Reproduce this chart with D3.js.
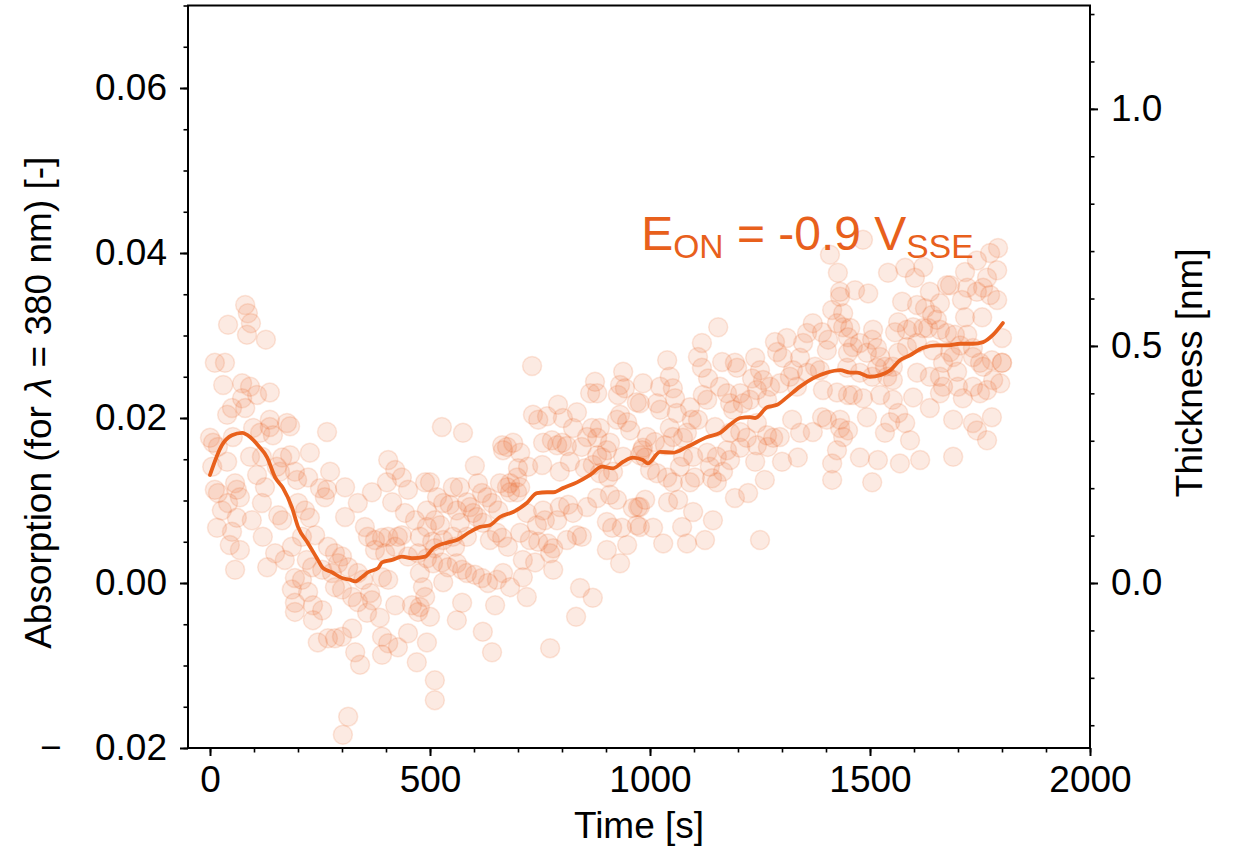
<!DOCTYPE html>
<html><head><meta charset="utf-8">
<script src="https://cdn.jsdelivr.net/npm/d3@7"></script>
<style>
body{margin:0;background:#fff}
text{font-family:"Liberation Sans",Arial,Helvetica,sans-serif}
</style>
</head><body>
<svg id="chart" width="1234" height="850"></svg>
<script>
// ---------------- data ----------------
const xTicks = [0, 500, 1000, 1500, 2000];
const yTicks = [-0.02, 0.00, 0.02, 0.04, 0.06];
const rightTicks = [0.0, 0.5, 1.0];
const xDomain = [-50, 2000];
const yDomain = [-0.02, 0.07];
const thicknessPerAbsorption = 17.4; // nm per absorption unit (twin axis)

// scatter: [time (s), absorption]
const scatterPoints = [
[80,0.0337],[86,0.0327],[93,0.0315],[84,0.0301],[41,0.0313],[127,0.0295],[11,0.0267],[34,0.0267],[30,0.0240],[73,0.0242],[91,0.0238],[107,0.0228],[136,0.0231],[73,0.0224],[80,0.0212],[50,0.0212],[39,0.0204],[0,0.0176],[7,0.0170],[18,0.0165],[52,0.0177],[98,0.0188],[114,0.0182],[136,0.0198],[136,0.0189],[143,0.0179],[175,0.0194],[182,0.0190],[266,0.0183],[91,0.0153],[118,0.0153],[39,0.0147],[164,0.0152],[182,0.0155],[227,0.0158],[152,0.0141],[159,0.0135],[193,0.0135],[223,0.0128],[198,0.0125],[273,0.0135],[107,0.0131],[57,0.0121],[61,0.0113],[68,0.0104],[11,0.0113],[18,0.0109],[125,0.0116],[250,0.0115],[266,0.0113],[261,0.0104],[307,0.0116],[405,0.0149],[421,0.0137],[436,0.0128],[402,0.0122],[368,0.0110],[450,0.0113],[489,0.0122],[118,0.0097],[41,0.0097],[27,0.0088],[61,0.0079],[95,0.0076],[155,0.0082],[164,0.0076],[200,0.0097],[216,0.0088],[227,0.0079],[307,0.0080],[336,0.0097],[414,0.0098],[443,0.0085],[466,0.0076],[16,0.0067],[50,0.0062],[45,0.0046],[68,0.0040],[57,0.0016],[120,0.0056],[148,0.0036],[170,0.0028],[130,0.0019],[186,0.0044],[209,0.0056],[239,0.0058],[268,0.0044],[284,0.0036],[300,0.0032],[352,0.0068],[359,0.0056],[375,0.0052],[391,0.0055],[405,0.0056],[427,0.0056],[375,0.0040],[398,0.0036],[421,0.0044],[436,0.0058],[450,0.0032],[473,0.0036],[220,0.0028],[232,0.0019],[255,0.0016],[277,0.0012],[291,0.0024],[314,0.0019],[336,0.0012],[348,0.0004],[391,0.0007],[405,0.0004],[193,0.0006],[209,0.0004],[186,-0.0008],[223,-0.0011],[284,-0.0005],[300,-0.0008],[323,-0.0017],[336,-0.0023],[368,-0.0021],[364,-0.0012],[193,-0.0024],[193,-0.0035],[234,-0.0027],[255,-0.0033],[357,-0.0036],[386,-0.0042],[421,-0.0027],[459,-0.0027],[473,-0.0035],[234,-0.0045],[323,-0.0055],[245,-0.0072],[268,-0.0067],[284,-0.0067],[300,-0.0065],[391,-0.0065],[405,-0.0073],[427,-0.0078],[450,-0.0061],[330,-0.0084],[341,-0.0099],[391,-0.0087],[470,-0.0096],[314,-0.0162],[302,-0.0184],[511,-0.0118],[511,-0.0142],[493,-0.0072],[561,-0.0045],[573,-0.0024],[500,-0.0041],[5,0.0141],
[732,0.0263],[875,0.0244],[864,0.0230],[880,0.0230],[939,0.0256],[932,0.0240],[927,0.0228],[943,0.0236],[984,0.0242],[970,0.0219],[527,0.0189],[575,0.0182],[734,0.0204],[746,0.0198],[766,0.0202],[791,0.0216],[802,0.0200],[834,0.0207],[825,0.0188],[868,0.0188],[886,0.0188],[925,0.0198],[932,0.0204],[948,0.0195],[955,0.0185],[664,0.0167],[675,0.0165],[689,0.0170],[666,0.0161],[705,0.0158],[757,0.0170],[777,0.0173],[789,0.0167],[800,0.0170],[811,0.0166],[845,0.0165],[857,0.0177],[880,0.0176],[909,0.0170],[902,0.0161],[880,0.0155],[891,0.0152],[916,0.0135],[939,0.0153],[982,0.0161],[989,0.0152],[500,0.0122],[602,0.0142],[700,0.0139],[723,0.0141],[755,0.0143],[698,0.0128],[682,0.0121],[705,0.0116],[795,0.0135],[818,0.0147],[852,0.0139],[870,0.0143],[886,0.0133],[905,0.0128],[552,0.0116],[568,0.0116],[609,0.0121],[618,0.0109],[630,0.0104],[659,0.0121],[675,0.0116],[682,0.0110],[698,0.0110],[530,0.0097],[545,0.0095],[561,0.0088],[584,0.0098],[591,0.0092],[598,0.0085],[516,0.0104],[493,0.0088],[511,0.0076],[523,0.0070],[568,0.0073],[607,0.0080],[641,0.0097],[655,0.0088],[720,0.0085],[757,0.0088],[761,0.0076],[743,0.0070],[789,0.0076],[795,0.0092],[814,0.0095],[825,0.0085],[857,0.0092],[880,0.0103],[909,0.0107],[925,0.0101],[902,0.0074],[914,0.0067],[936,0.0067],[961,0.0091],[973,0.0092],[970,0.0070],[493,0.0068],[477,0.0056],[505,0.0050],[511,0.0042],[530,0.0052],[552,0.0056],[557,0.0044],[584,0.0056],[620,0.0073],[636,0.0052],[652,0.0061],[664,0.0055],[677,0.0044],[705,0.0061],[727,0.0052],[746,0.0050],[768,0.0048],[780,0.0042],[811,0.0052],[834,0.0058],[845,0.0056],[902,0.0040],[932,0.0024],[948,0.0046],[493,0.0030],[507,0.0024],[527,0.0025],[541,0.0019],[561,0.0024],[573,0.0016],[584,0.0012],[602,0.0010],[618,0.0006],[632,0.0000],[652,0.0004],[666,0.0012],[682,-0.0005],[530,0.0001],[711,0.0028],[739,0.0025],[773,0.0036],[780,0.0016],[711,0.0007],[477,0.0012],[484,-0.0005],[489,-0.0017],[477,-0.0029],[648,-0.0027],[620,-0.0059],[641,-0.0084],[720,-0.0017],[841,-0.0006],[870,-0.0018],[832,-0.0041],[773,-0.0079],
[1155,0.0310],[1118,0.0291],[1109,0.0274],[1039,0.0270],[1164,0.0268],[1193,0.0267],[1198,0.0261],[1239,0.0273],[1250,0.0258],[1232,0.0248],[1284,0.0292],[1289,0.0280],[1311,0.0297],[1302,0.0273],[1325,0.0258],[1341,0.0273],[1348,0.0291],[1357,0.0303],[1370,0.0315],[1391,0.0304],[1402,0.0282],[1405,0.0295],[1414,0.0331],[1432,0.0347],[1439,0.0327],[1450,0.0298],[1439,0.0310],[1425,0.0315],[1023,0.0238],[1045,0.0250],[1052,0.0236],[1057,0.0224],[1118,0.0261],[1132,0.0248],[1120,0.0228],[1130,0.0222],[1159,0.0238],[1175,0.0230],[1182,0.0218],[1189,0.0210],[1205,0.0230],[1211,0.0218],[1227,0.0222],[1243,0.0234],[1257,0.0246],[1273,0.0238],[1266,0.0222],[1295,0.0242],[1318,0.0250],[1334,0.0238],[1357,0.0255],[1375,0.0262],[1386,0.0258],[1393,0.0234],[1425,0.0231],[1450,0.0228],[977,0.0218],[1016,0.0218],[1023,0.0210],[1061,0.0206],[1091,0.0213],[1095,0.0198],[1109,0.0198],[1084,0.0182],[1045,0.0188],[1075,0.0176],[1052,0.0177],[993,0.0177],[1011,0.0171],[1034,0.0167],[984,0.0164],[977,0.0155],[1148,0.0189],[1182,0.0182],[1205,0.0183],[1220,0.0176],[1243,0.0194],[1266,0.0179],[1280,0.0176],[1295,0.0177],[1323,0.0198],[1341,0.0182],[1370,0.0183],[1391,0.0201],[1402,0.0198],[1432,0.0188],[1439,0.0177],[1425,0.0161],[1414,0.0145],[1414,0.0125],[1130,0.0158],[1152,0.0153],[1175,0.0161],[1205,0.0164],[1243,0.0167],[1268,0.0165],[1075,0.0153],[1098,0.0153],[1068,0.0141],[1136,0.0141],[1182,0.0149],[1239,0.0147],[1300,0.0147],[1336,0.0152],[1000,0.0137],[1016,0.0133],[1039,0.0128],[1052,0.0122],[1091,0.0122],[1102,0.0128],[1141,0.0127],[1152,0.0122],[1166,0.0135],[1261,0.0125],[977,0.0092],[1041,0.0098],[1064,0.0101],[1098,0.0086],[1143,0.0076],[1193,0.0103],[1223,0.0109],[1007,0.0067],[1030,0.0048],[1073,0.0068],[1084,0.0048],[1125,0.0052],[1250,0.0052],[977,0.0068],[989,0.0101],
[1484,0.0416],[1409,0.0398],[1791,0.0406],[1773,0.0400],[1743,0.0391],[1789,0.0379],[1766,0.0370],[1716,0.0377],[1541,0.0376],[1580,0.0382],[1602,0.0370],[1621,0.0383],[1675,0.0361],[1466,0.0355],[1496,0.0351],[1432,0.0353],[1427,0.0376],[1573,0.0341],[1607,0.0337],[1625,0.0333],[1636,0.0353],[1659,0.0339],[1641,0.0325],[1652,0.0319],[1682,0.0361],[1709,0.0343],[1721,0.0358],[1743,0.0353],[1757,0.0358],[1773,0.0349],[1789,0.0343],[1716,0.0322],[1755,0.0322],[1455,0.0309],[1564,0.0316],[1584,0.0307],[1557,0.0304],[1598,0.0310],[1621,0.0309],[1632,0.0309],[1659,0.0307],[1675,0.0303],[1693,0.0301],[1721,0.0301],[1507,0.0307],[1505,0.0295],[1477,0.0291],[1461,0.0286],[1516,0.0285],[1450,0.0279],[1493,0.0279],[1523,0.0274],[1534,0.0262],[1552,0.0262],[1564,0.0279],[1584,0.0286],[1607,0.0291],[1643,0.0282],[1682,0.0280],[1689,0.0274],[1666,0.0267],[1705,0.0288],[1734,0.0285],[1734,0.0274],[1750,0.0267],[1777,0.0270],[1800,0.0297],[1800,0.0267],[1800,0.0267],[1448,0.0261],[1477,0.0255],[1516,0.0261],[1505,0.0250],[1539,0.0250],[1552,0.0246],[1607,0.0255],[1636,0.0250],[1659,0.0250],[1698,0.0256],[1666,0.0238],[1700,0.0238],[1734,0.0238],[1766,0.0234],[1796,0.0242],[1780,0.0246],[1757,0.0262],[1461,0.0228],[1484,0.0224],[1523,0.0228],[1552,0.0222],[1598,0.0225],[1636,0.0212],[1659,0.0230],[1711,0.0224],[1750,0.0230],[1432,0.0198],[1450,0.0185],[1493,0.0201],[1546,0.0195],[1564,0.0206],[1580,0.0194],[1591,0.0173],[1689,0.0198],[1734,0.0194],[1743,0.0185],[1766,0.0173],[1777,0.0201],[1477,0.0152],[1518,0.0149],[1534,0.0182],[1568,0.0145],[1614,0.0149],[1689,0.0153],[1505,0.0122]
];

// smoothed trend: [time (s), absorption]
const trendLine = [
[0,0.0131],[27,0.0167],[50,0.0179],[73,0.0182],[91,0.0177],[109,0.0167],[130,0.0152],[148,0.0128],[166,0.0115],[186,0.0092],[200,0.0068],[223,0.0048],[243,0.0030],[257,0.0018],[277,0.0013],[300,0.0006],[318,0.0004],[330,0.0002],[345,0.0007],[359,0.0013],[382,0.0018],[391,0.0025],[414,0.0028],[436,0.0032],[459,0.0030],[489,0.0032],[507,0.0042],[539,0.0049],[561,0.0052],[591,0.0062],[614,0.0068],[636,0.0070],[659,0.0080],[689,0.0086],[720,0.0097],[743,0.0109],[766,0.0110],[780,0.0110],[802,0.0115],[834,0.0122],[864,0.0131],[891,0.0141],[916,0.0139],[939,0.0147],[961,0.0152],[984,0.0149],[995,0.0145],[1023,0.0159],[1052,0.0158],[1084,0.0165],[1130,0.0177],[1159,0.0182],[1182,0.0192],[1205,0.0200],[1227,0.0201],[1239,0.0200],[1266,0.0213],[1289,0.0216],[1311,0.0225],[1341,0.0238],[1370,0.0248],[1402,0.0255],[1432,0.0258],[1455,0.0255],[1471,0.0255],[1500,0.0250],[1523,0.0252],[1546,0.0258],[1568,0.0270],[1591,0.0276],[1620,0.0285],[1652,0.0288],[1675,0.0288],[1705,0.0290],[1734,0.0290],[1757,0.0292],[1780,0.0301],[1802,0.0315]
];

const xLabel = "Time [s]";
const rightLabel = "Thickness [nm]";
const annotationPos = [980, 0.0404];

// ---------------- drawing ----------------
const color = "#E8601C";
const fontSize = 37;
const svg = d3.select("#chart");
const L = 188, R = 1090, T = 5.5, B = 748;

const x = d3.scaleLinear().domain(xDomain).range([L, R]);
const y = d3.scaleLinear().domain(yDomain).range([B, T]);
const yR = d3.scaleLinear().domain(yDomain.map(v => v * thicknessPerAbsorption)).range([B, T]);

svg.append("clipPath").attr("id", "plotclip")
  .append("rect").attr("x", L).attr("y", T).attr("width", R - L).attr("height", B - T);

const plot = svg.append("g").attr("clip-path", "url(#plotclip)");

plot.append("g").selectAll("circle").data(scatterPoints).join("circle")
  .attr("cx", d => x(d[0])).attr("cy", d => y(d[1])).attr("r", 9.5)
  .attr("fill", color).attr("fill-opacity", 0.13)
  .attr("stroke", color).attr("stroke-opacity", 0.15).attr("stroke-width", 1.5);

plot.append("path").datum(trendLine)
  .attr("fill", "none").attr("stroke", color).attr("stroke-width", 3.8)
  .attr("stroke-linejoin", "round").attr("stroke-linecap", "round")
  .attr("d", d3.line().x(d => x(d[0])).y(d => y(d[1])).curve(d3.curveMonotoneX));

// annotation
const ann = svg.append("text").attr("x", x(annotationPos[0])).attr("y", y(annotationPos[1]))
  .attr("fill", color).style("font-size", "48px");
ann.append("tspan").text("E");
ann.append("tspan").attr("dy", 8).style("font-size", "33.6px").text("ON");
ann.append("tspan").attr("dy", -8).text(" = -0.9 V");
ann.append("tspan").attr("dy", 8).style("font-size", "33.6px").text("SSE");

function styleAxis(g, w) {
  g.select(".domain").remove();
  g.selectAll(".tick line").attr("stroke", "#000").attr("stroke-width", w);
  g.selectAll(".tick text").attr("fill", "#000").style("font-size", fontSize + "px")
    .style("font-family", '"Liberation Sans",Arial,sans-serif');
}

// minor ticks
const xMinor = d3.range(0, 21).map(i => i * 100);
const yMinor = d3.range(-4, 15).map(i => i * 0.005);
const rMinor = d3.range(-3, 13).map(i => i / 10);

svg.append("g").attr("transform", `translate(0,${B})`)
  .call(d3.axisBottom(x).tickValues(xMinor).tickSize(4.5).tickFormat(""))
  .call(g => styleAxis(g, 1.6));
svg.append("g").attr("transform", `translate(${L},0)`)
  .call(d3.axisLeft(y).tickValues(yMinor).tickSize(4.5).tickFormat(""))
  .call(g => styleAxis(g, 1.6));
svg.append("g").attr("transform", `translate(${R},0)`)
  .call(d3.axisRight(yR).tickValues(rMinor).tickSize(4.5).tickFormat(""))
  .call(g => styleAxis(g, 1.6));

// major ticks (negative labels: mathtext-style minus with spacing)
const yFmt = d => d < 0 ? "\u2212\u2002\u2009\u2009" + d3.format(".2f")(-d) : d3.format(".2f")(d);
svg.append("g").attr("transform", `translate(0,${B})`)
  .call(d3.axisBottom(x).tickValues(xTicks).tickSize(8).tickPadding(10).tickFormat(d3.format("d")))
  .call(g => styleAxis(g, 2));
svg.append("g").attr("transform", `translate(${L},0)`)
  .call(d3.axisLeft(y).tickValues(yTicks).tickSize(8).tickPadding(13).tickFormat(yFmt))
  .call(g => styleAxis(g, 2));
svg.append("g").attr("transform", `translate(${R},0)`)
  .call(d3.axisRight(yR).tickValues(rightTicks).tickSize(8).tickPadding(13).tickFormat(d3.format(".1f")))
  .call(g => styleAxis(g, 2));

// frame
svg.append("rect").attr("x", L).attr("y", T).attr("width", R - L).attr("height", B - T)
  .attr("fill", "none").attr("stroke", "#000").attr("stroke-width", 2);

// axis labels
svg.append("text").attr("x", (L + R) / 2).attr("y", 838).attr("text-anchor", "middle")
  .style("font-size", fontSize + "px").text(xLabel);

const yl = svg.append("text").attr("transform", `translate(51,${(T + B) / 2 + 26}) rotate(-90)`)
  .attr("text-anchor", "middle").style("font-size", fontSize + "px");
yl.append("tspan").text("Absorption (for ");
yl.append("tspan").style("font-style", "italic").text("λ");
yl.append("tspan").text(" = 380 nm) [-]");

svg.append("text").attr("transform", `translate(1202,${(T + B) / 2 - 4}) rotate(-90)`)
  .attr("text-anchor", "middle").style("font-size", fontSize + "px").text(rightLabel);
</script>
</body></html>
